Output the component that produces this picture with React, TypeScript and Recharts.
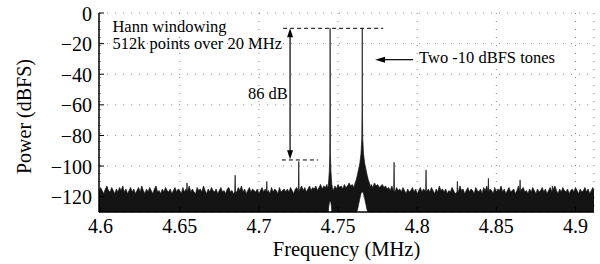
import React from 'react';
import {
  ComposedChart,
  Area,
  XAxis,
  YAxis,
  CartesianGrid,
  ReferenceLine,
  ReferenceDot,
} from 'recharts';

// ---------- data ----------
const xTicks = [4.6, 4.65, 4.7, 4.75, 4.8, 4.85, 4.9];
const xTickLabels = ['4.6', '4.65', '4.7', '4.75', '4.8', '4.85', '4.9'];
const yTicks = [-120, -100, -80, -60, -40, -20, 0];
const yTickLabels = ['\u2212120', '\u2212100', '\u221280', '\u221260', '\u221240', '\u221220', '0'];

const xDomain: [number, number] = [4.599, 4.9117];
const yDomain: [number, number] = [-130, 0];
const floorLevel = -130;

// noise floor top envelope (dBFS), read every 1 kHz starting at 4.598 MHz
const noiseStart = 4.598;
const noiseStep = 0.001;
const noiseTop = [
  -115, -117, -114, -116, -118, -115, -113, -116, -117, -114, -116, -118, -115, -117, -114, -116, -113, -117, -115, -118,
  -116, -114, -117, -115, -118, -116, -114, -117, -113, -116, -118, -115, -117, -114, -116, -118, -115, -113, -117, -116,
  -118, -115, -117, -114, -116, -117, -115, -118, -116, -114, -117, -115, -116, -118, -114, -117, -115, -116, -113, -117,
  -115, -117, -118, -114, -116, -115, -117, -113, -116, -118, -115, -117, -114, -116, -117, -115, -118, -116, -114, -117,
  -116, -118, -115, -114, -117, -116, -118, -115, -117, -114, -116, -113, -117, -115, -118, -116, -114, -117, -115, -116,
  -117, -115, -118, -116, -114, -117, -115, -113, -116, -118, -114, -117, -115, -116, -118, -114, -117, -116, -115, -117,
  -115, -117, -114, -116, -118, -115, -114, -117, -115, -113, -116, -114, -117, -115, -113, -116, -114, -115, -113, -116,
  -114, -112, -115, -113, -114, -112, -115, -113, -114, -116, -113, -115, -112, -114, -113, -115, -112, -114, -113, -111,
  -113, -112, -114, -111, -113, -112, -110, -113, -111, -114, -112, -113, -110, -112, -114, -111, -113, -112, -114, -113,
  -112, -114, -113, -115, -114, -116, -113, -115, -117, -114, -116, -115, -117, -114, -116, -118, -115, -117, -116, -114,
  -117, -115, -118, -116, -114, -117, -115, -116, -118, -115, -117, -114, -116, -118, -115, -117, -113, -116, -115, -117,
  -115, -118, -116, -117, -114, -116, -118, -115, -117, -113, -116, -115, -118, -116, -114, -117, -115, -116, -118, -114,
  -116, -117, -115, -118, -114, -116, -113, -117, -115, -116, -118, -114, -117, -115, -116, -113, -117, -115, -118, -116,
  -114, -117, -116, -115, -118, -116, -113, -117, -115, -114, -117, -116, -118, -115, -117, -114, -116, -118, -115, -117,
  -116, -114, -117, -115, -118, -116, -114, -117, -115, -113, -116, -118, -115, -117, -114, -116, -117, -115, -118, -116,
  -115, -117, -114, -116, -118, -115, -117, -116, -114, -117, -115, -118, -116, -114, -117,
];

// spurs (MHz, peak dBFS)
const spurFreqs = [4.6546, 4.685, 4.705, 4.7252, 4.7854, 4.8056, 4.8254, 4.845, 4.865, 4.8854];
const spurLevels = [-111, -106, -110, -97, -97.5, -102.5, -110, -108, -109, -113];
const spurBase = -117;
const spurHalfWidth = 0.00025;

// tone 1 (4.745 MHz): frequency, lower edge, upper edge
const tone1Freqs = [4.7434, 4.7439, 4.7442, 4.7445, 4.7448, 4.7449, 4.745, 4.7451, 4.7452, 4.7455, 4.7458, 4.7461, 4.7466];
const tone1Low = [-130, -130, -126, -124, -123, -123, -123, -123, -123, -124, -126, -130, -130];
const tone1High = [-115, -112, -108, -103, -92, -60, -10, -60, -92, -103, -108, -112, -115];

// tone 2 (4.7653 MHz)
const tone2Freqs = [4.76, 4.7608, 4.7615, 4.7622, 4.763, 4.7638, 4.7645, 4.765, 4.7652, 4.7653, 4.7654, 4.7656, 4.7661, 4.7668, 4.7676, 4.7684, 4.7691, 4.7698, 4.7706];
const tone2Low = [-130, -130, -130, -129, -125, -121, -118, -117, -117, -117, -117, -117, -118, -121, -125, -129, -130, -130, -130];
const tone2High = [-114, -111, -109, -106, -102, -98, -92, -82, -60, -10, -60, -82, -92, -98, -102, -106, -109, -111, -114];

// ---------- table built from the arrays ----------
type Row = { f: number; band: [number, number] };
const tones = [
  { f: tone1Freqs, lo: tone1Low, hi: tone1High },
  { f: tone2Freqs, lo: tone2Low, hi: tone2High },
];
const inTone = (f: number) =>
  tones.some((t) => f >= t.f[0] - 0.0001 && f <= t.f[t.f.length - 1] + 0.0001);
const nearSpur = (f: number) => spurFreqs.some((s) => Math.abs(s - f) < 0.0004);

const rows: Row[] = [];
noiseTop.forEach((v, i) => {
  const f = +(noiseStart + i * noiseStep).toFixed(4);
  if (inTone(f) || nearSpur(f)) return;
  rows.push({ f, band: [floorLevel, v] });
});
spurFreqs.forEach((s, i) => {
  rows.push({ f: s - spurHalfWidth, band: [floorLevel, spurBase] });
  rows.push({ f: s, band: [floorLevel, spurLevels[i]] });
  rows.push({ f: s + spurHalfWidth, band: [floorLevel, spurBase] });
});
tones.forEach((t) => {
  t.f.forEach((f, i) => rows.push({ f, band: [t.lo[i], t.hi[i]] }));
});
rows.sort((a, b) => a.f - b.f);

// annotations
const toneLevel = -10;
const spurMarkLevel = -96;
const arrowFreq = 4.7197;
const topDashFrom = 4.7153;
const topDashTo = 4.7785;
const lowDashFrom = 4.7145;
const lowDashTo = 4.7374;
const tonesArrowFrom = 4.7974;
const tonesArrowTo = 4.7734;
const tonesArrowLevel = -30.5;

const FONT = '"Liberation Serif", "DejaVu Serif", serif';
const txt = (size: number): React.CSSProperties => ({ fontFamily: FONT, fontSize: size });

// ---------- custom pieces ----------
const XTick = (p: any) => {
  const i = xTicks.indexOf(p.payload.value);
  return (
    <g>
      <line x1={p.x} x2={p.x} y1={p.y} y2={p.y - 5} stroke="#000" strokeWidth={1} />
      <text x={p.x} y={p.y + 21} textAnchor="middle" style={txt(20)} fill="#000">
        {xTickLabels[i]}
      </text>
    </g>
  );
};
const TopTick = (p: any) => (
  <line x1={p.x} x2={p.x} y1={p.y} y2={p.y + 5} stroke="#000" strokeWidth={1} />
);
const YTick = (p: any) => {
  const i = yTicks.indexOf(p.payload.value);
  return (
    <g>
      <line x1={p.x} x2={p.x + 5} y1={p.y} y2={p.y} stroke="#000" strokeWidth={1} />
      <text x={p.x - 7} y={p.y + 7.5} textAnchor="end" style={txt(20)} fill="#000">
        {yTickLabels[i]}
      </text>
    </g>
  );
};
const RightTick = (p: any) => (
  <line x1={p.x} x2={p.x - 5} y1={p.y} y2={p.y} stroke="#000" strokeWidth={1} />
);

const XLabel = (p: any) => {
  const vb = p.viewBox;
  return (
    <text x={vb.x + vb.width / 2} y={vb.y + 44} textAnchor="middle" style={txt(20.5)} fill="#000">
      Frequency (MHz)
    </text>
  );
};
const YLabel = (p: any) => {
  const vb = p.viewBox;
  const cx = 31;
  const cy = vb.y + vb.height / 2 + 4;
  return (
    <text x={cx} y={cy} transform={`rotate(-90, ${cx}, ${cy})`} textAnchor="middle" style={txt(20)} fill="#000">
      Power (dBFS)
    </text>
  );
};

const DoubleArrow = (p: any) => {
  const x = p.x1;
  const top = Math.min(p.y1, p.y2);
  const bot = Math.max(p.y1, p.y2);
  const hl = 9;
  const hw = 3;
  return (
    <g>
      <line x1={x} x2={x} y1={top + hl - 1} y2={bot - hl + 1} stroke="#000" strokeWidth={1.2} />
      <polygon points={`${x},${top} ${x - hw},${top + hl} ${x + hw},${top + hl}`} fill="#000" />
      <polygon points={`${x},${bot} ${x - hw},${bot - hl} ${x + hw},${bot - hl}`} fill="#000" />
    </g>
  );
};
const LeftArrow = (p: any) => {
  const y = p.y1;
  const tip = Math.min(p.x1, p.x2);
  const tail = Math.max(p.x1, p.x2);
  const hl = 10;
  const hw = 3;
  return (
    <g>
      <line x1={tip + hl - 1} x2={tail} y1={y} y2={y} stroke="#000" strokeWidth={1.2} />
      <polygon points={`${tip},${y} ${tip + hl},${y - hw} ${tip + hl},${y + hw}`} fill="#000" />
    </g>
  );
};
const makeText = (label: string, anchor: 'start' | 'end') => (p: any) => (
  <text x={p.cx} y={p.cy} textAnchor={anchor} style={txt(16.5)} fill="#000">
    {label}
  </text>
);

export default function App() {
  return (
    <div style={{ position: 'absolute', left: 0, top: 0, width: 600, height: 264, background: '#fff', fontFamily: FONT }}>
      <ComposedChart
        width={600}
        height={264}
        data={rows}
        margin={{ top: 13, right: 6, bottom: 0, left: 0 }}
        style={{ fontFamily: FONT }}
      >
        <CartesianGrid stroke="#8a8a8a" strokeDasharray="1 7" strokeWidth={1} />
        <XAxis
          dataKey="f"
          type="number"
          domain={xDomain}
          ticks={xTicks}
          interval={0}
          allowDataOverflow
          height={52}
          tickSize={0}
          tickMargin={0}
          tickLine={false}
          tick={XTick}
          axisLine={{ stroke: '#000', strokeWidth: 1.5 }}
          label={<XLabel />}
        />
        <XAxis
          xAxisId="top"
          orientation="top"
          dataKey="f"
          type="number"
          domain={xDomain}
          ticks={xTicks}
          interval={0}
          allowDataOverflow
          height={0}
          tickSize={0}
          tickMargin={0}
          tickLine={false}
          tick={TopTick}
          axisLine={{ stroke: '#000', strokeWidth: 1.5 }}
        />
        <YAxis
          type="number"
          domain={yDomain}
          ticks={yTicks}
          interval={0}
          allowDataOverflow
          width={99}
          tickSize={0}
          tickMargin={0}
          tickLine={false}
          tick={YTick}
          axisLine={{ stroke: '#000', strokeWidth: 1.5 }}
          label={<YLabel />}
        />
        <YAxis
          yAxisId="right"
          orientation="right"
          type="number"
          domain={yDomain}
          ticks={yTicks}
          interval={0}
          allowDataOverflow
          width={0}
          tickSize={0}
          tickMargin={0}
          tickLine={false}
          tick={RightTick}
          axisLine={{ stroke: '#000', strokeWidth: 1.5 }}
        />
        <Area
          type="linear"
          dataKey="band"
          stroke="#141414"
          strokeWidth={0.7}
          fill="#141414"
          fillOpacity={1}
          dot={false}
          activeDot={false}
          isAnimationActive={false}
        />
        <ReferenceLine
          segment={[{ x: topDashFrom, y: toneLevel }, { x: topDashTo, y: toneLevel }]}
          stroke="#000"
          strokeDasharray="4 3"
          strokeWidth={1}
        />
        <ReferenceLine
          segment={[{ x: lowDashFrom, y: spurMarkLevel }, { x: lowDashTo, y: spurMarkLevel }]}
          stroke="#000"
          strokeDasharray="4 3"
          strokeWidth={1}
        />
        <ReferenceLine
          segment={[{ x: arrowFreq, y: toneLevel }, { x: arrowFreq, y: -95.5 }]}
          shape={DoubleArrow}
        />
        <ReferenceLine
          segment={[{ x: tonesArrowTo, y: tonesArrowLevel }, { x: tonesArrowFrom, y: tonesArrowLevel }]}
          shape={LeftArrow}
        />
        <ReferenceDot x={4.6075} y={-12.6} r={1} shape={makeText('Hann windowing', 'start')} />
        <ReferenceDot x={4.6075} y={-23.8} r={1} shape={makeText('512k points over 20 MHz', 'start')} />
        <ReferenceDot x={4.7183} y={-56.5} r={1} shape={makeText('86 dB', 'end')} />
        <ReferenceDot x={4.8012} y={-32.7} r={1} shape={makeText('Two -10 dBFS tones', 'start')} />
      </ComposedChart>
    </div>
  );
}
